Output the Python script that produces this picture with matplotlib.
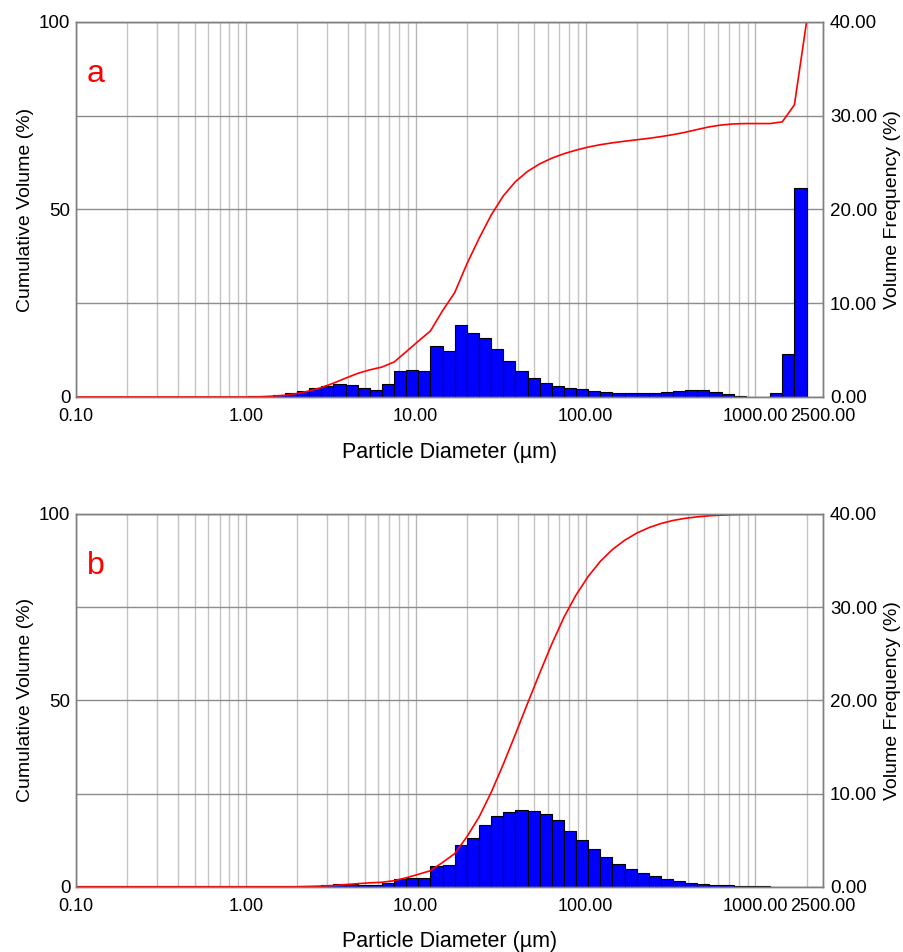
import numpy as np
import matplotlib
matplotlib.use("Agg")
import matplotlib.pyplot as plt
from matplotlib.ticker import FixedLocator, FixedFormatter, NullFormatter

plt.rcParams['font.family'] = ['Liberation Sans', 'DejaVu Sans']

# size class edges (um), 14 classes per decade up to 2000 um
edges = [0.746, 0.879, 1.036, 1.221, 1.439, 1.697, 2.000, 2.358, 2.779, 3.276,
         3.861, 4.552, 5.365, 6.325, 7.455, 8.788, 10.36, 12.21, 14.39, 16.97,
         20.00, 23.58, 27.79, 32.76, 38.61, 45.52, 53.65, 63.25, 74.55, 87.88,
         103.6, 122.1, 143.9, 169.7, 200.0, 235.8, 277.9, 327.6, 386.1, 455.2,
         536.5, 632.5, 745.5, 878.8, 1035.9, 1221.1, 1439.4, 1696.7, 2000.0]

# volume frequency (%) per class, sample a
freq_a = [0, 0,
          0.07, 0.15, 0.25, 0.46, 0.68, 0.92, 1.17, 1.35, 1.28, 0.96,
          0.75, 1.35, 2.77, 2.84, 2.74, 5.44, 4.87, 7.68, 6.83, 6.29,
          5.16, 3.82, 2.77, 2.02, 1.53, 1.21, 0.96, 0.82, 0.64, 0.50,
          0.43, 0.39, 0.39, 0.46, 0.53, 0.64, 0.75, 0.71, 0.50, 0.28,
          0.10, 0.0, 0.0, 0.46, 4.55, 22.3]

# volume frequency (%) per class, sample b
freq_b = [0, 0, 0, 0, 0, 0,
          0.07, 0.10, 0.14, 0.25, 0.25, 0.22, 0.16, 0.41, 0.79, 0.93,
          0.97, 2.22, 2.36, 4.50, 5.26, 6.62, 7.55, 8.05, 8.26, 8.12,
          7.83, 7.15, 6.00, 4.97, 4.04, 3.18, 2.47, 1.93, 1.47, 1.11,
          0.82, 0.57, 0.39, 0.29, 0.18, 0.14, 0.07, 0.05, 0.04,
          0, 0, 0]

xticks = [0.1, 1, 10, 100, 1000, 2500]
xticklabels = ["0.10", "1.00", "10.00", "100.00", "1000.00", "2500.00"]
minor_x = [m * d for d in [0.1, 1, 10, 100, 1000] for m in range(2, 10) if m * d <= 2000]

X_FS = 13
Y_FS = 13.5


def draw_panel(ax_f, freq, letter):
    e = np.array(edges)
    f = np.array(freq, dtype=float)
    keep = f > 0
    ax_f.bar(e[:-1][keep], f[keep], width=(e[1:] - e[:-1])[keep], align='edge',
             color='#0000ff', edgecolor='black', linewidth=0.8, zorder=2)
    ax_f.set_xscale('log')
    ax_f.set_xlim(0.1, 2500)
    ax_f.set_ylim(0, 40)
    ax_f.xaxis.set_major_locator(FixedLocator(xticks))
    ax_f.xaxis.set_major_formatter(FixedFormatter(xticklabels))
    ax_f.xaxis.set_minor_locator(FixedLocator(minor_x))
    ax_f.xaxis.set_minor_formatter(NullFormatter())
    ax_f.set_yticks([0, 10, 20, 30, 40])
    ax_f.set_yticklabels(["0.00", "10.00", "20.00", "30.00", "40.00"])
    ax_f.set_xlabel("Particle Diameter (\u00b5m)", fontsize=15.5, labelpad=12)
    ax_f.set_axisbelow(True)
    ax_f.grid(True, which='major', axis='x', color='#b8b8b8', linewidth=1.0)
    ax_f.grid(True, which='minor', axis='x', color='#c4c4c4', linewidth=1.0)
    ax_f.grid(True, which='major', axis='y', color='#8c8c8c', linewidth=1.0)
    ax_f.tick_params(axis='x', which='both', length=0, labelsize=X_FS, pad=8)

    ax_c = ax_f.twinx()
    cum = np.concatenate([[0], np.cumsum(f)])
    cum = cum * 100 / cum[-1]
    ax_c.plot(np.concatenate([[0.1], e]), np.concatenate([[0], cum]),
              color='#ff0000', linewidth=1.2)
    ax_c.set_ylim(0, 100)
    ax_c.set_yticks([0, 50, 100])
    ax_c.yaxis.tick_left()
    ax_c.yaxis.set_label_position('left')
    ax_c.set_ylabel("Cumulative Volume (%)", fontsize=14, labelpad=4)
    ax_c.tick_params(which='both', length=0, labelsize=Y_FS, pad=4)
    ax_c.text(0.014, 0.86, letter, color='#ff0000', fontsize=23,
              transform=ax_c.transAxes, va='center', ha='left')

    # frequency axis goes on the right (after twinx, which resets it)
    ax_f.yaxis.tick_right()
    ax_f.yaxis.set_label_position('right')
    ax_f.set_ylabel("Volume Frequency (%)", fontsize=14, labelpad=5)
    ax_f.tick_params(axis='y', length=0, labelsize=Y_FS, pad=5)

    for ax in (ax_f, ax_c):
        for s in ax.spines.values():
            s.set_color('#808080')
            s.set_linewidth(1.0)


fig = plt.figure(figsize=(9.04, 9.52), dpi=100)
ax_a = fig.add_axes([0.0841, 0.583, 0.8263, 0.394])
ax_b = fig.add_axes([0.0841, 0.0686, 0.8263, 0.3915])
draw_panel(ax_a, freq_a, 'a')
draw_panel(ax_b, freq_b, 'b')

fig.savefig('out.png', dpi=100)
